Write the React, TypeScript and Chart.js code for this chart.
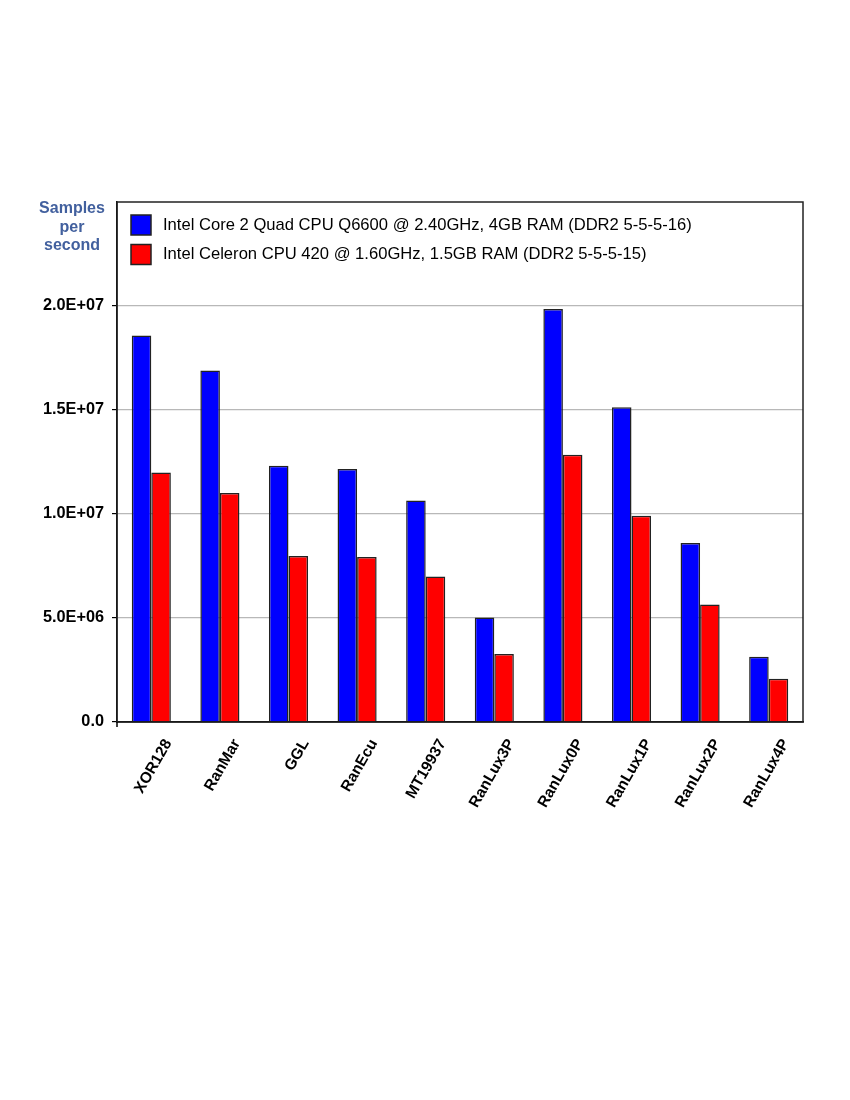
import React, { useEffect, useRef } from 'react';
import { Chart, registerables } from 'chart.js';

Chart.register(...registerables);

const categories = ['XOR128', 'RanMar', 'GGL', 'RanEcu', 'MT19937', 'RanLux3P', 'RanLux0P', 'RanLux1P', 'RanLux2P', 'RanLux4P'];
const quadValues = [1.858e7, 1.69e7, 1.232e7, 1.216e7, 1.065e7, 5.03e6, 1.985e7, 1.513e7, 8.6e6, 3.14e6];
const celeronValues = [1.2e7, 1.101e7, 7.98e6, 7.93e6, 7.0e6, 3.27e6, 1.285e7, 9.92e6, 5.65e6, 2.08e6];
const seriesNames = [
  'Intel Core 2 Quad CPU Q6600 @ 2.40GHz, 4GB RAM (DDR2 5-5-5-16)',
  'Intel Celeron CPU 420 @ 1.60GHz, 1.5GB RAM (DDR2 5-5-5-15)',
];
const yTitleLines = ['Samples', 'per', 'second'];
const yMax = 2.5e7;
const lastTick = 2e7;

const FONT = '"Liberation Sans", Arial, sans-serif';

// scientific labels like 2.0E+07
const sci = (v: number) => {
  if (v === 0) return '0.0';
  const e = Math.floor(Math.log10(v));
  const m = v / Math.pow(10, e);
  return `${m.toFixed(1)}E+${String(e).padStart(2, '0')}`;
};

// frame round the plot, the legend inside it and the y title in the corner
const framePlugin = {
  id: 'frame',
  afterDraw(chart: any) {
    const { ctx, chartArea } = chart;
    ctx.save();
    ctx.strokeStyle = '#222';
    ctx.lineWidth = 1.5;
    ctx.strokeRect(chartArea.left, chartArea.top, chartArea.right - chartArea.left, chartArea.bottom - chartArea.top);
    // y axis runs a little past the zero line
    ctx.strokeStyle = '#000';
    ctx.beginPath();
    ctx.moveTo(chartArea.left, chartArea.bottom);
    ctx.lineTo(chartArea.left, chartArea.bottom + 5);
    ctx.stroke();

    // legend
    ctx.font = `16.6px ${FONT}`;
    ctx.textAlign = 'left';
    ctx.textBaseline = 'middle';
    chart.data.datasets.forEach((ds: any, i: number) => {
      const bx = chartArea.left + 14;
      const by = chartArea.top + 13 + i * 29.5;
      ctx.fillStyle = ds.backgroundColor;
      ctx.fillRect(bx, by, 20, 20);
      ctx.strokeStyle = '#222';
      ctx.lineWidth = 1.5;
      ctx.strokeRect(bx, by, 20, 20);
      ctx.fillStyle = '#000';
      ctx.fillText(ds.label, chartArea.left + 46, by + 10);
    });

    ctx.fillStyle = '#42609e';
    ctx.font = `bold 16px ${FONT}`;
    ctx.textAlign = 'center';
    yTitleLines.forEach((line, i) => {
      ctx.fillText(line, chartArea.left - 45, chartArea.top + 7 + i * 18.5);
    });
    ctx.restore();
  },
};

const App: React.FC = () => {
  const canvasRef = useRef<HTMLCanvasElement | null>(null);
  const chartRef = useRef<Chart | null>(null);

  useEffect(() => {
    if (!canvasRef.current) return;
    if (chartRef.current) chartRef.current.destroy();

    chartRef.current = new Chart(canvasRef.current, {
      type: 'bar',
      data: {
        labels: categories,
        datasets: [
          {
            label: seriesNames[0],
            data: quadValues,
            backgroundColor: '#0000ff',
            borderColor: '#222',
            borderWidth: 1.5,
          },
          {
            label: seriesNames[1],
            data: celeronValues,
            backgroundColor: '#ff0000',
            borderColor: '#222',
            borderWidth: 1.5,
          },
        ],
      },
      options: {
        animation: false,
        responsive: true,
        maintainAspectRatio: false,
        layout: { padding: { top: 194, right: 39, bottom: 0, left: 0 } },
        datasets: { bar: { categoryPercentage: 0.57, barPercentage: 1 } },
        plugins: {
          tooltip: { enabled: false },
          legend: { display: false },
        },
        scales: {
          x: {
            grid: { display: false },
            border: { color: '#000', width: 1.5 },
            ticks: {
              color: '#000',
              font: { family: FONT, size: 15.5, weight: 'bold' },
              minRotation: 60,
              maxRotation: 60,
              labelOffset: 17,
              padding: 6,
            },
            afterFit: (scale: any) => {
              scale.height = 136;
            },
          },
          y: {
            min: 0,
            max: yMax,
            border: { color: '#000', width: 1.5 },
            grid: {
              color: (c: any) => (c.tick && c.tick.value > lastTick ? 'transparent' : '#b8b8b8'),
              tickColor: (c: any) => (c.tick && c.tick.value > lastTick ? 'transparent' : '#000'),
              tickLength: 5,
              lineWidth: 1.2,
            },
            ticks: {
              stepSize: 5e6,
              color: '#000',
              padding: 8,
              font: { family: FONT, size: 16.3, weight: 'bold' },
              callback: (v: any) => (Number(v) > lastTick ? '' : sci(Number(v))),
            },
            afterFit: (scale: any) => {
              scale.width = 109;
            },
          },
        },
      },
      plugins: [framePlugin],
    });

    return () => {
      if (chartRef.current) {
        chartRef.current.destroy();
        chartRef.current = null;
      }
    };
  }, []);

  return (
    <div style={{ position: 'relative', width: 834, height: 850 }}>
      <canvas ref={canvasRef} />
    </div>
  );
};

export default App;
